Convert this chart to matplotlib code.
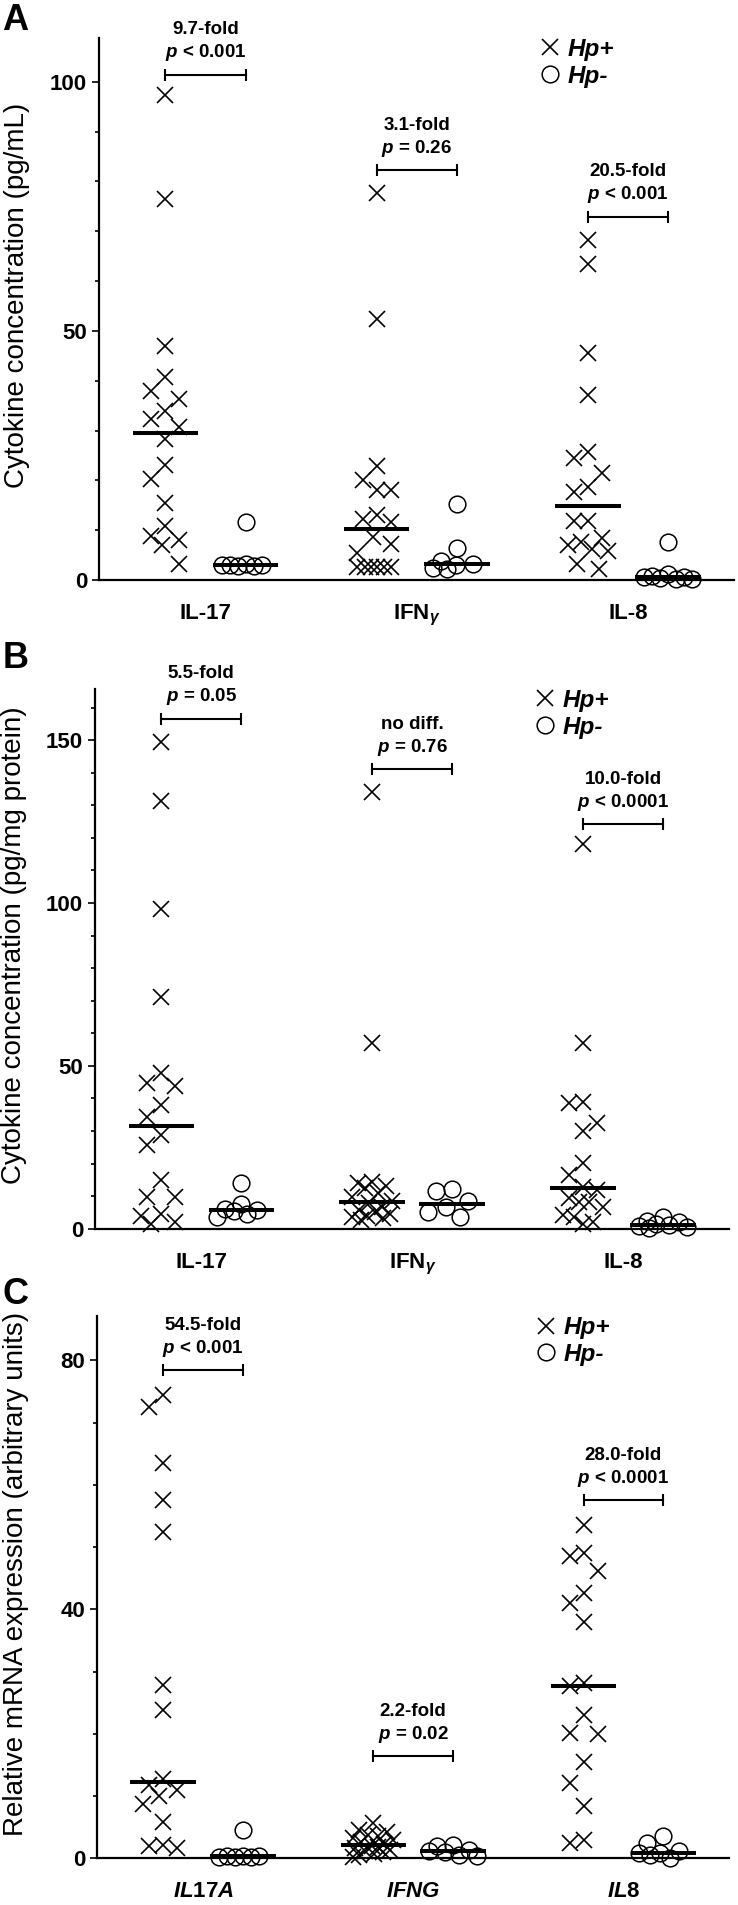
import numpy as np
import matplotlib
matplotlib.use('Agg')
import matplotlib.pyplot as plt
from matplotlib.ticker import MultipleLocator
from matplotlib.lines import Line2D
from matplotlib.font_manager import FontProperties

plt.rcParams['font.family'] = ['Liberation Sans', 'DejaVu Sans']
plt.rcParams['mathtext.fontset'] = 'custom'
plt.rcParams['mathtext.rm'] = 'Liberation Sans:bold'
plt.rcParams['mathtext.it'] = 'Liberation Sans:italic:bold'
plt.rcParams['mathtext.bf'] = 'Liberation Sans:bold'

# ---------------- data ----------------
# Panel A: cytokine concentration (pg/mL)
A_IL17_pos = [97.4, 76.4, 47.0, 40.7, 37.9, 36.3, 33.9, 32.3, 30.7, 28.4, 23.1, 20.2, 15.5, 10.8, 8.8, 8.0, 7.0, 3.3]
A_IL17_neg = [11.7, 3.2, 3.0, 2.9, 3.1, 2.8, 3.0]
A_IFNG_pos = [77.6, 52.3, 22.9, 20.1, 18.1, 18.1, 13.1, 12.2, 11.7, 8.7, 7.2, 5.4, 2.7, 2.7, 2.7, 2.7, 2.7, 2.7]
A_IFNG_neg = [15.3, 6.4, 3.8, 3.2, 3.0, 2.5, 2.2]
A_IL8_pos = [68.2, 63.4, 45.6, 37.2, 25.6, 24.4, 21.4, 18.6, 17.7, 11.9, 11.9, 8.4, 7.7, 7.0, 6.2, 5.8, 3.2, 2.3]
A_IL8_neg = [7.7, 1.2, 0.9, 0.7, 0.6, 0.5, 0.3, 0.2]

# Panel B: cytokine concentration (pg/mg protein)
B_IL17_pos = [149.5, 131.4, 98.3, 71.0, 47.7, 44.8, 43.8, 38.0, 34.4, 28.8, 25.7, 15.0, 9.8, 9.8, 4.5, 3.8, 2.0, 1.5]
B_IL17_neg = [14.0, 7.5, 6.2, 5.8, 5.5, 4.6, 3.5]
B_IFNG_pos = [134.1, 57.0, 14.4, 14.1, 13.1, 12.5, 11.0, 9.8, 8.5, 7.9, 6.7, 5.8, 5.2, 4.6, 4.0, 3.6, 3.2, 2.8]
B_IFNG_neg = [12.2, 11.6, 8.5, 6.8, 5.2, 3.7]
B_IL8_pos = [118.0, 57.0, 39.0, 38.7, 32.4, 30.0, 20.1, 16.5, 12.9, 11.9, 9.5, 8.3, 8.3, 6.8, 4.2, 3.7, 2.0, 1.5]
B_IL8_neg = [3.6, 2.5, 2.0, 1.4, 1.0, 0.7, 0.4, 0.2]

# Panel C: relative mRNA expression (arbitrary units)
C_IL17A_pos = [74.5, 72.5, 63.6, 57.5, 52.4, 27.8, 23.9, 12.8, 11.8, 11.0, 10.0, 8.8, 5.9, 2.2, 1.9, 1.6]
C_IL17A_neg = [4.6, 0.3, 0.2, 0.3, 0.2, 0.3, 0.2]
C_IFNG_pos = [5.7, 4.6, 4.2, 3.8, 3.6, 3.2, 2.9, 2.6, 2.3, 2.0, 1.8, 1.6, 1.4, 1.2, 1.0, 0.7, 0.5, 0.2]
C_IFNG_neg = [2.1, 2.0, 1.4, 1.1, 1.0, 0.6, 0.4]
C_IL8_pos = [53.6, 49.1, 48.6, 46.2, 42.6, 41.1, 38.0, 28.1, 27.7, 23.0, 20.2, 20.0, 15.5, 12.1, 8.4, 2.9, 2.5]
C_IL8_neg = [3.6, 2.5, 1.2, 0.9, 0.8, 0.5, 0.1]

# labels
A_groups = ['IL-17', r'IFN$_{\gamma}$', 'IL-8']
B_groups = ['IL-17', r'IFN$_{\gamma}$', 'IL-8']
C_groups = [r'$\mathit{IL17A}$', r'$\mathit{IFNG}$', r'$\mathit{IL8}$']

A_fold = ['9.7-fold', '3.1-fold', '20.5-fold']
A_pval = [r'$p$ < 0.001', r'$p$ = 0.26', r'$p$ < 0.001']
A_bracket = [101.4, 82.3, 72.9]

B_fold = ['5.5-fold', 'no diff.', '10.0-fold']
B_pval = [r'$p$ = 0.05', r'$p$ = 0.76', r'$p$ < 0.0001']
B_bracket = [156.6, 141.0, 124.2]

C_fold = ['54.5-fold', '2.2-fold', '28.0-fold']
C_pval = [r'$p$ < 0.001', r'$p$ = 0.02', r'$p$ < 0.0001']
C_bracket = [78.4, 16.4, 57.5]

A_ylabel = 'Cytokine concentration (pg/mL)'
B_ylabel = 'Cytokine concentration (pg/mg protein)'
C_ylabel = 'Relative mRNA expression (arbitrary units)'

A_ticks = [0, 50, 100]
B_ticks = [0, 50, 100, 150]
C_ticks = [0, 40, 80]
A_ymax, B_ymax, C_ymax = 108.8, 165.7, 87.1

legend_labels = ['Hp+', 'Hp-']

# ---------------- layout ----------------
W, H = 738, 1905
fig = plt.figure(figsize=(W / 100, H / 100), dpi=100)


def rect(left, right, top, bottom):
    return [left / W, 1 - bottom / H, (right - left) / W, (bottom - top) / H]


GROUP_STEP = 2.6375
X_MS, O_MS = 11.5, 12.0


def swarm(ax, xc, vals, step, vthr, max_half):
    """Prism-like column scatter: discrete slots, with a fallback for crowded rows."""
    vals = np.asarray(vals, float)
    ys = ax.transData.transform(np.column_stack([np.full(len(vals), xc), vals]))[:, 1]
    order = np.argsort(-vals, kind='stable')
    slots = [0.0]
    k = 1
    while k * step <= max_half:
        slots += [-k * step, k * step]
        k += 1
    fine = np.arange(-max_half, max_half + 1, 1.0)
    placed = []
    offs = np.zeros(len(vals))
    for i in order:
        y = ys[i]
        chosen = None
        for c in slots:
            if all(not (abs(c - px) < 0.9 * step and abs(y - py) < vthr) for px, py in placed):
                chosen = c
                break
        if chosen is None:
            best, bestd = 0.0, -1
            for c in fine:
                d = min(np.hypot((c - px) / step, (y - py) / vthr) for px, py in placed)
                if d > bestd + 1e-9:
                    bestd, best = d, c
            chosen = best
        offs[i] = chosen
        placed.append((chosen, y))
    px_per_unit = ax.transData.transform((1, 0))[0] - ax.transData.transform((0, 0))[0]
    return xc + offs / px_per_unit


def panel(rect_, letter, groups, pos_list, neg_list, folds, pvals, brackets,
          ylabel, ticks, ymax, letter_xy=(0, 0)):
    ax = fig.add_axes(rect_)
    ax.set_xlim(-0.83, 7.1)
    ax.set_ylim(0, ymax)
    for s in ['top', 'right']:
        ax.spines[s].set_visible(False)
    for s in ['left', 'bottom']:
        ax.spines[s].set_linewidth(1.6)
    ax.yaxis.set_major_locator(plt.FixedLocator(ticks))
    ax.yaxis.set_minor_locator(MultipleLocator(10))
    ax.tick_params(axis='y', which='major', length=5.3, width=1.2, pad=3.2,
                   labelsize=16)
    ax.tick_params(axis='y', which='minor', length=3.2, width=1.2)
    for t in ax.get_yticklabels():
        t.set_fontweight('bold')
    centers = [g * GROUP_STEP + 0.5 for g in range(3)]
    ax.set_xticks(centers)
    ax.set_xticklabels(groups, fontsize=16, fontweight='bold')
    ax.tick_params(axis='x', length=0, pad=16.5)
    ax.set_ylabel(ylabel, fontsize=20)
    ax.yaxis.set_label_coords(-0.108, 0.525)

    for g in range(3):
        xp = g * GROUP_STEP
        xn = xp + 1
        xs_p = swarm(ax, xp, pos_list[g], 14.0, 22.0, 20)
        xs_n = swarm(ax, xn, neg_list[g], 16.0, 18.0, 24)
        ax.plot(xs_p, pos_list[g], linestyle='none', marker='x', ms=X_MS,
                mew=1.2, color='black', clip_on=False, zorder=3)
        ax.plot(xs_n, neg_list[g], linestyle='none', marker='o', ms=O_MS,
                mew=1.1, mfc='none', mec='black', clip_on=False, zorder=3)
        ax.hlines([np.median(pos_list[g])], xp - 0.41, xp + 0.41, color='black',
                  lw=2.9, zorder=4)
        ax.hlines([np.median(neg_list[g])], xn - 0.41, xn + 0.41, color='black',
                  lw=2.9, zorder=4)
        ax.plot([xp, xn], [brackets[g], brackets[g]], color='black', lw=1.5,
                marker='|', ms=9, mew=1.5, clip_on=False)
        ax.annotate(folds[g], xy=((xp + xn) / 2, brackets[g]), xytext=(0, 45),
                    textcoords='offset pixels', ha='center', va='center',
                    fontsize=13.5, fontweight='bold', annotation_clip=False)
        ax.annotate(pvals[g], xy=((xp + xn) / 2, brackets[g]), xytext=(0, 22),
                    textcoords='offset pixels', ha='center', va='center',
                    fontsize=13.5, fontweight='bold', annotation_clip=False)

    handles = [Line2D([], [], linestyle='none', marker='x', ms=X_MS, mew=1.2, color='black'),
               Line2D([], [], linestyle='none', marker='o', ms=O_MS, mew=1.1,
                      mfc='none', mec='black')]
    ax.legend(handles, legend_labels, loc='upper left', bbox_to_anchor=(0.696, 1.0),
              frameon=False, borderaxespad=0, borderpad=0, handlelength=0.75,
              handletextpad=0.35, labelspacing=0.15,
              prop=FontProperties(family='Liberation Sans', style='italic',
                                  weight='bold', size=17.5))
    fig.text(letter_xy[0] / W, 1 - letter_xy[1] / H, letter, fontsize=26,
             fontweight='bold', ha='left', va='center')
    return ax


panel(rect(99, 734, 38, 580), 'A', A_groups,
      [A_IL17_pos, A_IFNG_pos, A_IL8_pos], [A_IL17_neg, A_IFNG_neg, A_IL8_neg],
      A_fold, A_pval, A_bracket, A_ylabel, A_ticks, A_ymax, letter_xy=(2, 21))
panel(rect(95, 729, 689, 1228.7), 'B', B_groups,
      [B_IL17_pos, B_IFNG_pos, B_IL8_pos], [B_IL17_neg, B_IFNG_neg, B_IL8_neg],
      B_fold, B_pval, B_bracket, B_ylabel, B_ticks, B_ymax, letter_xy=(3, 658))
panel(rect(97, 729, 1316.3, 1858.3), 'C', C_groups,
      [C_IL17A_pos, C_IFNG_pos, C_IL8_pos], [C_IL17A_neg, C_IFNG_neg, C_IL8_neg],
      C_fold, C_pval, C_bracket, C_ylabel, C_ticks, C_ymax, letter_xy=(3, 1294))

fig.savefig('out.png', dpi=100)
